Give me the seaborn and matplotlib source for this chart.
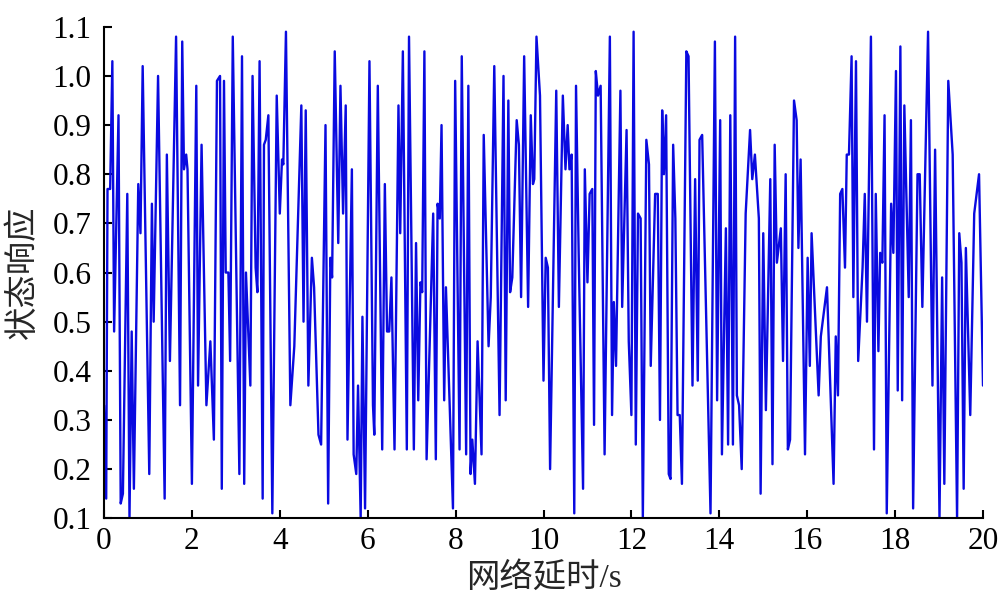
import matplotlib
matplotlib.use("Agg")
import matplotlib.pyplot as plt
import numpy as np
import pandas as pd
import seaborn as sns

# turning points of the response curve
delay_s = [
    0.00, 0.05, 0.08, 0.14, 0.19, 0.23, 0.33, 0.38, 0.43, 0.53, 0.58, 0.63, 0.68, 0.78, 0.83, 0.88,
    1.03, 1.09, 1.13, 1.23, 1.38, 1.43, 1.50, 1.64, 1.73, 1.78, 1.82, 1.87, 1.90, 2.00, 2.10, 2.14,
    2.22, 2.33, 2.42, 2.50, 2.57, 2.64, 2.68, 2.73, 2.77, 2.83, 2.87, 2.93, 3.08, 3.14, 3.19, 3.23,
    3.33, 3.38, 3.45, 3.49, 3.54, 3.61, 3.64, 3.68, 3.74, 3.83, 3.93, 4.00, 4.05, 4.08, 4.14, 4.24,
    4.33, 4.49, 4.54, 4.59, 4.65, 4.73, 4.78, 4.88, 4.94, 5.04, 5.10, 5.15, 5.19, 5.25, 5.33, 5.38,
    5.44, 5.50, 5.54, 5.64, 5.68, 5.74, 5.78, 5.84, 5.88, 5.94, 6.04, 6.12, 6.15, 6.23, 6.33, 6.39,
    6.44, 6.49, 6.54, 6.61, 6.70, 6.74, 6.80, 6.89, 6.94, 7.05, 7.10, 7.15, 7.20, 7.24, 7.29, 7.34,
    7.49, 7.55, 7.59, 7.64, 7.68, 7.74, 7.78, 7.94, 7.99, 8.09, 8.14, 8.24, 8.29, 8.34, 8.38, 8.44,
    8.50, 8.59, 8.64, 8.75, 8.80, 8.88, 9.00, 9.09, 9.14, 9.20, 9.24, 9.29, 9.39, 9.44, 9.49, 9.56,
    9.65, 9.71, 9.76, 9.79, 9.84, 9.92, 10.00, 10.05, 10.10, 10.15, 10.29, 10.35, 10.44, 10.50, 10.55, 10.59,
    10.64, 10.70, 10.74, 10.80, 10.90, 10.94, 11.00, 11.05, 11.11, 11.15, 11.19, 11.24, 11.30, 11.39, 11.51, 11.56,
    11.60, 11.65, 11.75, 11.79, 11.89, 11.94, 12.00, 12.05, 12.10, 12.15, 12.21, 12.26, 12.34, 12.40, 12.44, 12.54,
    12.60, 12.65, 12.70, 12.74, 12.79, 12.85, 12.89, 12.95, 13.00, 13.05, 13.10, 13.15, 13.25, 13.30, 13.39, 13.45,
    13.51, 13.55, 13.61, 13.80, 13.90, 13.95, 14.02, 14.06, 14.15, 14.20, 14.25, 14.31, 14.36, 14.40, 14.45, 14.51,
    14.60, 14.70, 14.75, 14.81, 14.90, 14.94, 15.00, 15.06, 15.16, 15.21, 15.26, 15.31, 15.40, 15.45, 15.51, 15.56,
    15.61, 15.70, 15.76, 15.80, 15.85, 15.95, 16.01, 16.06, 16.10, 16.26, 16.31, 16.45, 16.60, 16.65, 16.70, 16.75,
    16.80, 16.86, 16.90, 16.95, 17.01, 17.05, 17.11, 17.16, 17.26, 17.31, 17.36, 17.45, 17.52, 17.56, 17.62, 17.66,
    17.71, 17.76, 17.81, 17.91, 17.96, 18.02, 18.06, 18.12, 18.16, 18.21, 18.31, 18.36, 18.41, 18.51, 18.56, 18.62,
    18.75, 18.85, 18.91, 19.01, 19.07, 19.12, 19.21, 19.31, 19.41, 19.46, 19.51, 19.56, 19.61, 19.71, 19.80, 19.91,
    20.00,
]
response = [
    0.33, 0.14, 0.77, 0.77, 1.03, 0.48, 0.92, 0.13, 0.15, 0.76, 0.10, 0.48, 0.16, 0.78, 0.68, 1.02,
    0.19, 0.74, 0.50, 1.00, 0.14, 0.84, 0.42, 1.08, 0.33, 1.07, 0.81, 0.84, 0.81, 0.17, 0.98, 0.37,
    0.86, 0.33, 0.46, 0.26, 0.99, 1.00, 0.16, 0.99, 0.60, 0.60, 0.42, 1.08, 0.19, 1.04, 0.17, 0.60,
    0.37, 1.00, 0.61, 0.56, 1.03, 0.14, 0.86, 0.87, 0.92, 0.11, 0.96, 0.72, 0.83, 0.82, 1.09, 0.33,
    0.45, 0.94, 0.50, 0.93, 0.37, 0.63, 0.57, 0.27, 0.25, 0.90, 0.13, 0.63, 0.59, 1.05, 0.66, 0.98,
    0.72, 0.94, 0.26, 0.81, 0.23, 0.19, 0.37, 0.10, 0.51, 0.12, 1.03, 0.33, 0.27, 0.98, 0.24, 0.78,
    0.48, 0.48, 0.59, 0.24, 0.94, 0.68, 1.05, 0.24, 1.08, 0.24, 0.66, 0.34, 0.58, 0.56, 1.05, 0.22,
    0.72, 0.22, 0.74, 0.71, 0.90, 0.34, 0.57, 0.12, 0.99, 0.24, 1.04, 0.23, 0.98, 0.19, 0.26, 0.17,
    0.46, 0.23, 0.88, 0.45, 0.55, 1.02, 0.31, 1.00, 0.34, 0.95, 0.56, 0.59, 0.91, 0.86, 0.55, 1.04,
    0.53, 0.92, 0.78, 0.79, 1.08, 0.96, 0.38, 0.63, 0.61, 0.20, 0.97, 0.53, 0.96, 0.81, 0.90, 0.81,
    0.84, 0.11, 0.98, 0.64, 0.16, 0.81, 0.58, 0.76, 0.77, 0.29, 1.01, 0.96, 0.98, 0.23, 1.08, 0.31,
    0.54, 0.41, 0.97, 0.53, 0.89, 0.46, 0.31, 1.09, 0.25, 0.72, 0.71, 0.10, 0.87, 0.82, 0.41, 0.76,
    0.76, 0.30, 0.93, 0.80, 0.92, 0.19, 0.18, 0.86, 0.71, 0.31, 0.31, 0.17, 1.05, 1.04, 0.37, 0.79,
    0.38, 0.87, 0.88, 0.11, 1.07, 0.34, 0.91, 0.23, 0.69, 0.25, 0.92, 0.25, 1.08, 0.35, 0.33, 0.20,
    0.72, 0.89, 0.79, 0.84, 0.71, 0.15, 0.68, 0.32, 0.79, 0.21, 0.86, 0.62, 0.69, 0.42, 0.80, 0.24,
    0.26, 0.95, 0.91, 0.65, 0.83, 0.23, 0.63, 0.41, 0.68, 0.35, 0.47, 0.57, 0.17, 0.47, 0.35, 0.76,
    0.77, 0.61, 0.84, 0.84, 1.04, 0.55, 1.03, 0.42, 0.61, 0.76, 0.50, 1.08, 0.24, 0.76, 0.44, 0.64,
    0.62, 0.92, 0.11, 0.74, 0.64, 1.01, 0.36, 1.06, 0.34, 0.94, 0.55, 0.91, 0.12, 0.80, 0.80, 0.53,
    1.09, 0.37, 0.85, 0.10, 0.59, 0.17, 0.99, 0.84, 0.10, 0.68, 0.62, 0.16, 0.65, 0.31, 0.72, 0.80,
    0.37,
]

x_ticks = list(range(0, 21, 2))
y_ticks = [0.1, 0.2, 0.3, 0.4, 0.5, 0.6, 0.7, 0.8, 0.9, 1.0, 1.1]

sns.set_style("ticks")
plt.rcParams['font.family'] = ['Liberation Serif', 'Noto Sans CJK SC']
plt.rcParams['axes.unicode_minus'] = False

df = pd.DataFrame({"delay": delay_s, "response": response})

fig = plt.figure(figsize=(10, 6.09), dpi=100)
ax = fig.add_axes([0.104, 0.149, 0.879, 0.807])
sns.lineplot(data=df, x="delay", y="response", color="#0a0ae0", lw=1.7, ax=ax)

ax.set_xlim(0, 20)
ax.set_ylim(0.1, 1.1)
ax.set_xticks(x_ticks)
ax.set_xticklabels([str(t) for t in x_ticks])
ax.set_yticks(y_ticks)
ax.set_yticklabels([f"{t:.1f}" for t in y_ticks])
ax.tick_params(direction="in", length=6, width=1.5, labelsize=22.5, colors="black")
ax.tick_params(axis="y", pad=9)
ax.tick_params(axis="x", pad=6)
sns.despine(ax=ax)
for side in ["left", "bottom"]:
    ax.spines[side].set_linewidth(1.5)
    ax.spines[side].set_color("black")

ax.set_xlabel("网络延时/s", fontsize=24, labelpad=5)
ax.set_ylabel("状态响应", fontsize=24, labelpad=10)

fig.savefig("out.png", dpi=100)
